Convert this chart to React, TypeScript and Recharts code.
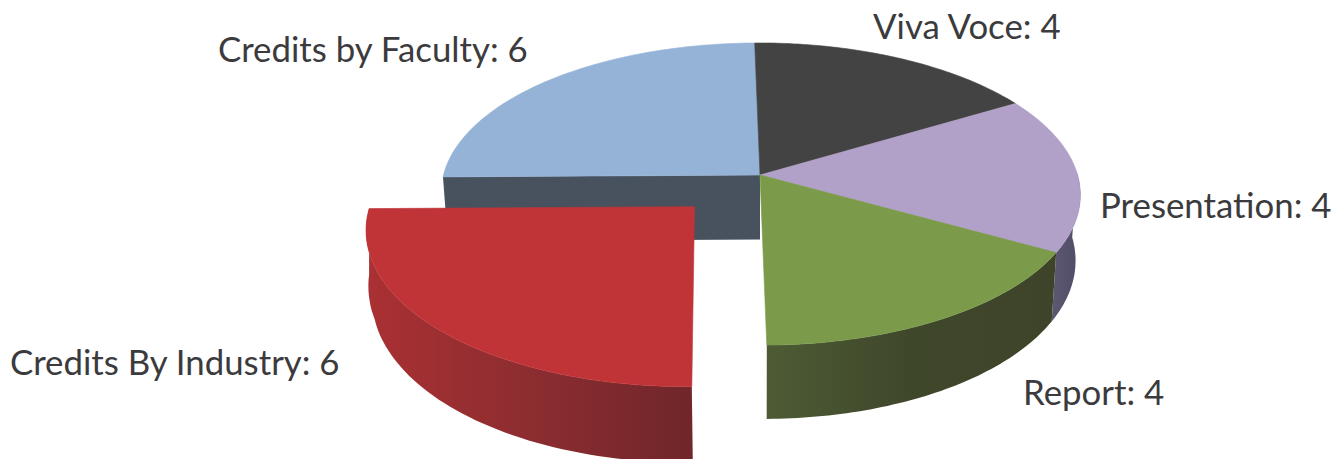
import { Pie, PieChart } from 'recharts'

const categories = ['Credits by Faculty', 'Viva Voce', 'Presentation', 'Report', 'Credits By Industry']
const credits = [6, 4, 4, 4, 6]
const topColors = ['#95b3d7', '#434343', '#b1a0c7', '#7b9a4a', '#c03438']
const wallRight = ['#48525f', '#434343', '#524d66', '#3e4429', '#70262a']
const wallMiddle = ['#48525f', '#434343', '#57526b', '#3f472b', '#8c2d30']
const wallLeft = ['#48525f', '#434343', '#5d5872', '#4d5b35', '#aa3033']

const tableData = categories.map((name, i) => ({
  name,
  value: credits[i],
  fill: topColors[i],
  wallRight: wallRight[i],
  wallMiddle: wallMiddle[i],
  wallLeft: wallLeft[i],
}))

// the labels sit wherever the original author dragged them
const labelSpots: Record<string, [number, number]> = {
  'Credits by Faculty': [218, 62],
  'Viva Voce': [873, 39],
  Presentation: [1100, 218],
  Report: [1023, 405],
  'Credits By Industry': [10, 375],
}

// fake 3D camera for the disc
const TILT = 0.469
const PERSPECTIVE = 0.126
const SHEAR = 0.04
const ROLL = 0.006
const DEPTH = 64.5
const BOTTOM_SCALE = 0.985
const EXPLODED = 'Credits By Industry'
const EXPLODE_BY = 0.29
const RAD = Math.PI / 180

function toScreen(cx: number, cy: number, r: number, X: number, Y: number, bottom = false, scale = BOTTOM_SCALE) {
  const p = 1 / (1 - PERSPECTIVE * Y)
  const px = r * X * p
  const py = r * TILT * Y * p
  let x = px + SHEAR * py
  const y = py - ROLL * px
  if (bottom) x *= scale
  return [cx + x, cy + y + (bottom ? DEPTH * p : 0)]
}

const toPath = (pts: number[][]) =>
  pts.map((p, i) => `${i ? 'L' : 'M'}${p[0].toFixed(1)} ${p[1].toFixed(1)}`).join(' ') + ' Z'

function Slice3D(props: any) {
  const { cx, cy, outerRadius: r, startAngle, endAngle, midAngle, fill, index } = props
  const row = tableData[index] ?? tableData.find((d) => d.fill === fill)!
  const exploded = row.name === EXPLODED
  const off = exploded ? EXPLODE_BY : 0
  const ox = off * Math.cos(midAngle * RAD)
  const oy = -off * Math.sin(midAngle * RAD)
  const rim = (deg: number, bottom = false) => {
    // pulled out slice: bottom edge eases out at the far end so the outline has no notch
    const ease = exploded ? Math.min(1, Math.max(0, (deg + 180) / 15)) : 1
    const scale = 1 - (1 - BOTTOM_SCALE) * ease
    return toScreen(cx, cy, r, ox + Math.cos(deg * RAD), oy - Math.sin(deg * RAD), bottom, scale)
  }

  const steps = 60
  const angles = Array.from({ length: steps + 1 }, (_, i) => startAngle + ((endAngle - startAngle) * i) / steps)
  const top = [toScreen(cx, cy, r, ox, oy), ...angles.map((a) => rim(a))]

  // only the front half of the rim can be seen
  const front = angles.filter((a) => Math.sin(a * RAD) < 0.001)
  const wall = [...front.map((a) => rim(a)), ...[...front].reverse().map((a) => rim(a, true))]
  const gradId = `wall-${row.name.replace(/\W/g, '')}`

  // the cut face of the back slice shows where the exploded one was pulled away
  const showsCut = startAngle === 180
  return (
    <g>
      <defs>
        <linearGradient id={gradId} x1="1" y1="0" x2="0" y2="0">
          <stop offset="0%" stopColor={row.wallRight} />
          <stop offset="50%" stopColor={row.wallMiddle} />
          <stop offset="100%" stopColor={row.wallLeft} />
        </linearGradient>
      </defs>
      {showsCut && (
        <path
          d={toPath([rim(180), toScreen(cx, cy, r, ox, oy), toScreen(cx, cy, r, ox, oy, true), rim(180, true)])}
          fill={row.wallLeft}
          stroke="none"
        />
      )}
      {front.length > 1 && <path d={toPath(wall)} fill={`url(#${gradId})`} stroke="none" />}
      <path d={toPath(top)} fill={fill} stroke={fill} strokeWidth={0.6} />
    </g>
  )
}

function renderLabel(props: any) {
  const [x, y] = labelSpots[props.name]
  return (
    <text key={props.name} x={x} y={y} fill="#3b3b3d" fontFamily="Lato" fontSize={34.8} textAnchor="start">
      {`${props.name}: ${props.value}`}
    </text>
  )
}

export default function App() {
  return (
    <div style={{ position: 'absolute', left: 0, top: 0, width: 1332, height: 459, background: '#fff' }}>
      <PieChart width={1332} height={459} margin={{ top: 0, right: 0, bottom: 0, left: 0 }}>
        <Pie
          data={tableData}
          dataKey="value"
          nameKey="name"
          cx={760}
          cy={175}
          innerRadius={0}
          outerRadius={317}
          startAngle={180}
          endAngle={-180}
          stroke="none"
          shape={Slice3D}
          inactiveShape={Slice3D}
          label={renderLabel}
          labelLine={false}
          isAnimationActive={false}
        />
      </PieChart>
    </div>
  )
}
